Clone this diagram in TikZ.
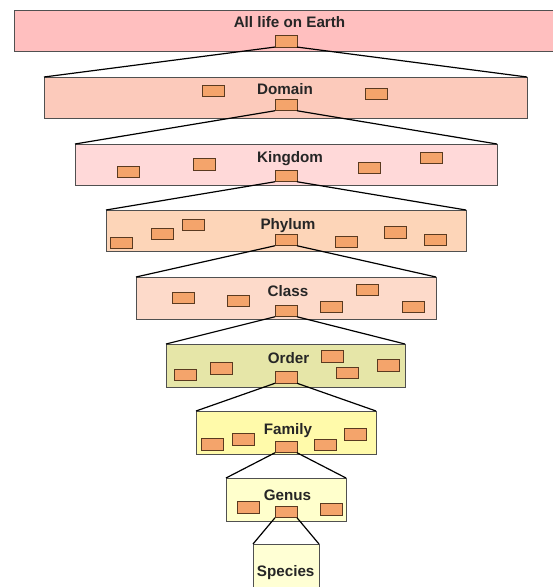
\documentclass[tikz,border=0pt]{standalone}
\usepackage{fontspec}
\setmainfont{Liberation Sans}
\definecolor{cTop}{HTML}{FFBFBF}
\definecolor{cDom}{HTML}{FCCABB}
\definecolor{cKin}{HTML}{FFD9D9}
\definecolor{cPhy}{HTML}{FDD5B8}
\definecolor{cCla}{HTML}{FDDACA}
\definecolor{cOrd}{HTML}{E6E6A8}
\definecolor{cFam}{HTML}{FFFAAA}
\definecolor{cGen}{HTML}{FFFFCC}
\definecolor{cSpe}{HTML}{FFFFD4}
\definecolor{cSm}{HTML}{F4A46B}
\definecolor{cSmB}{HTML}{5A3A20}
\definecolor{cBor}{HTML}{505050}
\begin{document}
\begin{tikzpicture}[x=1pt,y=-1pt,
  lvl/.style={draw=cBor,line width=0.9pt,inner sep=0pt,outer sep=0pt},
  sr/.style={draw=cSmB,fill=cSm,line width=0.8pt,minimum width=22pt,minimum height=11.5pt,inner sep=0pt,outer sep=0pt},
  lab/.style={font=\fontsize{15.2}{17}\selectfont\bfseries,text=black!85,anchor=base,inner sep=0pt},
  conn/.style={line width=1.2pt,black}]
\useasboundingbox (0,0) rectangle (553,587);
% level boxes
\node[lvl,fill=cTop,minimum width=551pt,minimum height=41pt] (top) at (289.5,30.5) {};
\node[lvl,fill=cDom,minimum width=483pt,minimum height=41pt] (dom) at (285.5,97.5) {};
\node[lvl,fill=cKin,minimum width=422pt,minimum height=41pt] (kin) at (286,164.5) {};
\node[lvl,fill=cPhy,minimum width=360pt,minimum height=41pt] (phy) at (286,230.5) {};
\node[lvl,fill=cCla,minimum width=300pt,minimum height=42pt] (cla) at (286,298) {};
\node[lvl,fill=cOrd,minimum width=239pt,minimum height=43pt] (ord) at (285.5,365.5) {};
\node[lvl,fill=cFam,minimum width=180pt,minimum height=43pt] (fam) at (286,432.5) {};
\node[lvl,fill=cGen,minimum width=120pt,minimum height=43pt] (gen) at (286,499.5) {};
\node[lvl,fill=cSpe,minimum width=66pt,minimum height=56pt] (spe) at (286,572) {};
% labels
\node[lab] (tTop) at (289.5,27.5) {All life on Earth};
\node[lab] (tDom) at (285,94.3) {Domain};
\node[lab] (tKin) at (290,162.3) {Kingdom};
\node[lab] (tPhy) at (288,229) {Phylum};
\node[lab] (tCla) at (288,296) {Class};
\node[lab] (tOrd) at (288.5,363) {Order};
\node[lab] (tFam) at (288,434) {Family};
\node[lab] (tGen) at (287.5,500) {Genus};
\node[lab] (tSpe) at (285.7,576) {Species};
% small rectangles
\node[sr] (c0) at (286,41.3) {};
\node[sr] (d1) at (213,90.8) {};
\node[sr] (d2) at (376,94) {};
\node[sr] (dc) at (286,105) {};
\node[sr] (k1) at (128,172) {};
\node[sr] (k2) at (204,164.5) {};
\node[sr] (k3) at (369,168) {};
\node[sr] (k4) at (431.5,158) {};
\node[sr] (kc) at (286,176) {};
\node[sr] (p1) at (121.5,243) {};
\node[sr] (p2) at (162,234) {};
\node[sr] (p3) at (193.5,225) {};
\node[sr] (pc) at (286,240) {};
\node[sr] (p4) at (346.5,242) {};
\node[sr] (p5) at (395.5,232.5) {};
\node[sr] (p6) at (435.5,240) {};
\node[sr] (s1) at (183.5,298) {};
\node[sr] (s2) at (238,301) {};
\node[sr] (sc) at (286,311) {};
\node[sr] (s3) at (331,307) {};
\node[sr] (s4) at (367,290) {};
\node[sr] (s5) at (413.5,307) {};
\node[sr] (o1) at (185.5,375) {};
\node[sr] (o2) at (221.5,368.5) {};
\node[sr] (oc) at (286,377.5) {};
\node[sr] (o3) at (332,356.5) {};
\node[sr] (o4) at (347.5,373) {};
\node[sr] (o5) at (388,365.5) {};
\node[sr] (f1) at (212,444.5) {};
\node[sr] (f2) at (243,439.5) {};
\node[sr] (fc) at (286,447) {};
\node[sr] (f3) at (325.5,445) {};
\node[sr] (f4) at (355,434.5) {};
\node[sr] (g1) at (248,507.5) {};
\node[sr] (gc) at (286,512) {};
\node[sr] (g2) at (331.5,509.5) {};
% connectors
\draw[conn] (c0.south west) -- (dom.north west) (c0.south east) -- (dom.north east);
\draw[conn] (dc.south west) -- (kin.north west) (dc.south east) -- (kin.north east);
\draw[conn] (kc.south west) -- (phy.north west) (kc.south east) -- (phy.north east);
\draw[conn] (pc.south west) -- (cla.north west) (pc.south east) -- (cla.north east);
\draw[conn] (sc.south west) -- (ord.north west) (sc.south east) -- (ord.north east);
\draw[conn] (oc.south west) -- (fam.north west) (oc.south east) -- (fam.north east);
\draw[conn] (fc.south west) -- (gen.north west) (fc.south east) -- (gen.north east);
\draw[conn] (gc.south west) -- (spe.north west) (gc.south east) -- (spe.north east);
\end{tikzpicture}
\end{document}
